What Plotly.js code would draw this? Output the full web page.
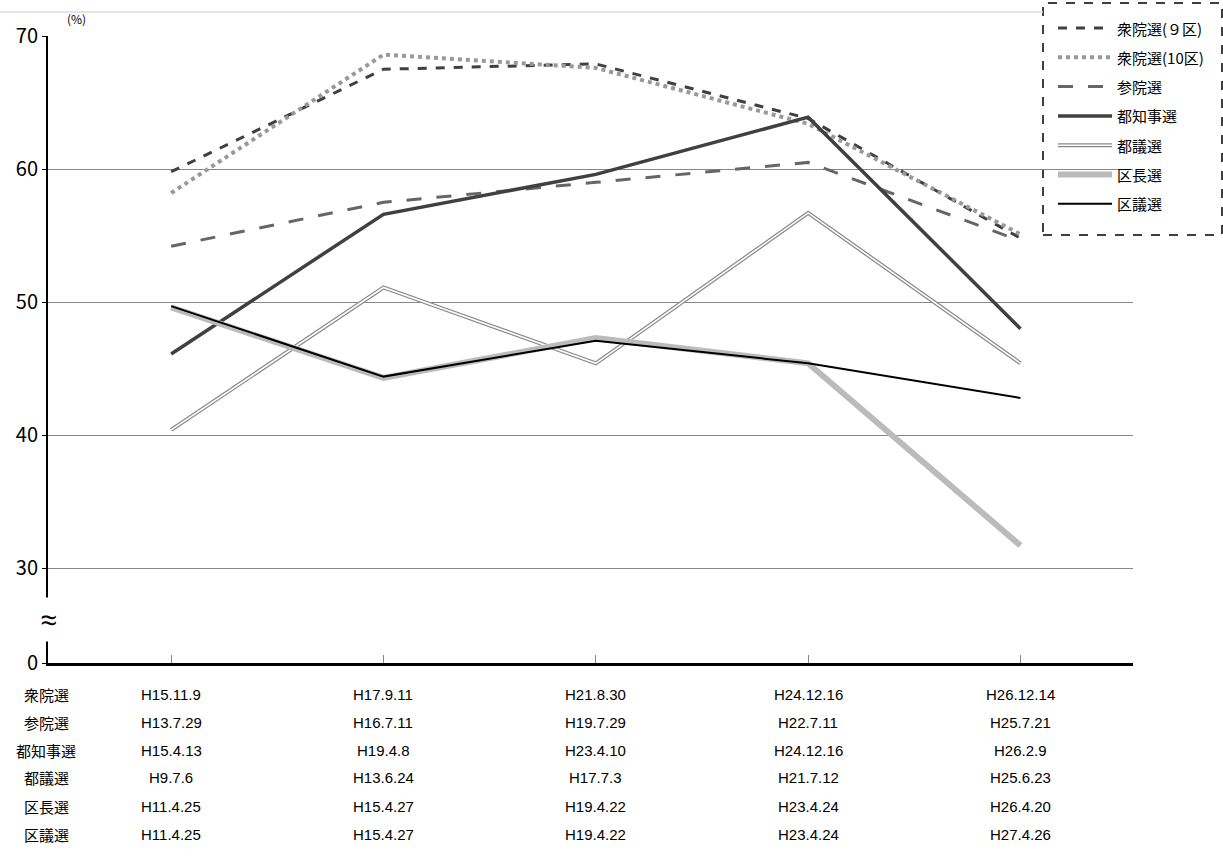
<!DOCTYPE html><html><head><meta charset="utf-8"><script src="https://cdn.plot.ly/plotly-3.0.1.min.js"></script></head><body style="margin:0"><div id="c" style="width:1223px;height:856px"></div><script>
const cats=[0,1,2,3,4];
const s9=[59.8,67.5,67.9,63.8,54.8];
const s10=[58.2,68.6,67.6,63.4,55.1];
const sanin=[54.2,57.5,59.0,60.5,54.6];
const chiji=[46.1,56.6,59.6,63.9,48.0];
const togi=[40.4,51.1,45.4,56.7,45.4];
const kucho=[49.6,44.3,47.3,45.4,31.7];
const kugi=[49.7,44.4,47.1,45.4,42.8];
const rowLabels=['衆院選','参院選','都知事選','都議選','区長選','区議選'];
const rowDates=[
['H15.11.9','H17.9.11','H21.8.30','H24.12.16','H26.12.14'],
['H13.7.29','H16.7.11','H19.7.29','H22.7.11','H25.7.21'],
['H15.4.13','H19.4.8','H23.4.10','H24.12.16','H26.2.9'],
['H9.7.6','H13.6.24','H17.7.3','H21.7.12','H25.6.23'],
['H11.4.25','H15.4.27','H19.4.22','H23.4.24','H26.4.20'],
['H11.4.25','H15.4.27','H19.4.22','H23.4.24','H27.4.26']];
const yTicks=[22.875,30,40,50,60,70], yText=['0','30','40','50','60','70'];
const F='Noto Sans CJK JP, sans-serif';
const styles=[
{name:'衆院選(９区)',line:{color:'#404040',width:3,dash:'dash'}},
{name:'衆院選(10区)',line:{color:'#999',width:4,dash:'dot'}},
{name:'参院選',line:{color:'#666',width:3,dash:'longdash'}},
{name:'都知事選',line:{color:'#404040',width:3.5}},
{name:'都議選',line:{color:'#888',width:4}},
{name:'区長選',line:{color:'#bbb',width:6}},
{name:'区議選',line:{color:'#000',width:2}}];
const series=[s9,s10,sanin,chiji,togi,kucho,kugi];
const data=series.map((y,i)=>({x:cats,y,type:'scatter',mode:'lines',line:styles[i].line,showlegend:false,hoverinfo:'skip'}));
data.splice(5,0,{x:cats,y:togi,type:'scatter',mode:'lines',line:{color:'#fff',width:1.6},showlegend:false,hoverinfo:'skip'});
const px=v=>(v-48)/1085, py=v=>(663-v)/627;
const ann=[], shapes=[];
shapes.push({type:'rect',xref:'paper',yref:'paper',x0:px(1043),x1:px(1222),y0:py(235),y1:py(3),line:{color:'#000',width:1.5,dash:'dash'},fillcolor:'#fff',layer:'below'});
shapes.push({type:'line',xref:'paper',yref:'paper',x0:px(0),x1:px(1043),y0:py(12),y1:py(12),line:{color:'#ddd',width:1.5}});
styles.forEach((s,i)=>{
 const yy=py(28+i*29.3);
 shapes.push({type:'line',xref:'paper',yref:'paper',x0:px(1058),x1:px(1112),y0:yy,y1:yy,line:s.line});
 if(i===4) shapes.push({type:'line',xref:'paper',yref:'paper',x0:px(1058),x1:px(1112),y0:yy,y1:yy,line:{color:'#fff',width:1.6}});
 ann.push({xref:'paper',yref:'paper',x:px(1115),y:yy,xanchor:'left',yanchor:'middle',text:s.name,showarrow:false,font:{size:15,family:F,color:'#000'}});
});
const rowY=[694,722,750,778,806,834];
rowY.forEach((v,i)=>{
 ann.push({xref:'paper',yref:'paper',x:px(46),y:py(v),text:rowLabels[i],showarrow:false,xanchor:'center',yanchor:'middle',font:{size:15,family:F,color:'#000'}});
 rowDates[i].forEach((d,j)=>ann.push({xref:'x',yref:'paper',x:j,y:py(v),yanchor:'middle',text:d,showarrow:false,font:{size:15,family:'Liberation Sans, Arial',color:'#000'}}));
});
ann.push({xref:'paper',yref:'paper',x:0,y:py(619),xanchor:'center',yanchor:'middle',text:'≈',showarrow:false,font:{size:30,color:'#000'},bgcolor:'#fff'});
ann.push({xref:'paper',yref:'paper',x:px(65),y:py(18),yanchor:'middle',text:'(%)',showarrow:false,font:{size:12,family:F,color:'#000'}});
Plotly.newPlot('c',data,{
 width:1223,height:856,margin:{l:48,r:90,t:36,b:193},
 paper_bgcolor:'#fff',plot_bgcolor:'#fff',showlegend:false,
 xaxis:{range:[-0.58,4.53],tickvals:cats,showticklabels:false,ticks:'inside',ticklen:8,tickcolor:'#888',showgrid:false,zeroline:false,showline:true,linecolor:'#000',linewidth:2.5},
 yaxis:{range:[22.875,70],tickvals:yTicks,ticktext:yText,showgrid:true,gridcolor:'#888',gridwidth:1,zeroline:false,showline:true,linecolor:'#000',linewidth:2,ticks:'outside',ticklen:4,tickcolor:'#000',tickfont:{size:20,family:F,color:'#000'}},
 shapes, annotations:ann
},{displayModeBar:false});
</script></body></html>
